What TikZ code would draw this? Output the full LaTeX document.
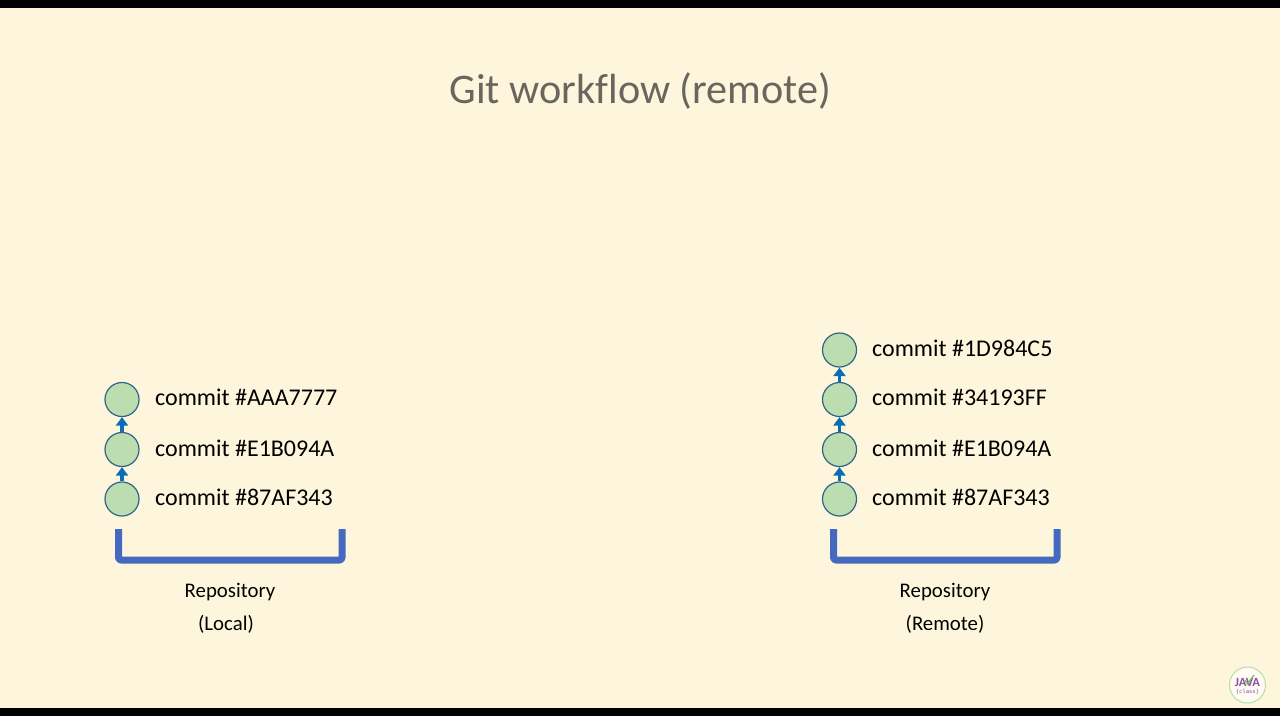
\documentclass[tikz,border=0pt]{standalone}
\usepackage{fontspec}
\setmainfont{Carlito}
\newfontfamily\monof{DejaVu Sans Mono}
\usetikzlibrary{arrows.meta}
\definecolor{bgc}{HTML}{FEF6DC}
\definecolor{titlec}{HTML}{68665F}
\definecolor{nodefill}{HTML}{BCDDB0}
\definecolor{nodeline}{HTML}{2F6488}
\definecolor{arrowc}{HTML}{0B6DB5}
\definecolor{bracketc}{HTML}{4569BE}
\definecolor{logop}{HTML}{8A4FA8}
\definecolor{logog}{HTML}{6FBF4A}
\tikzset{
  x=1pt,y=-1pt,
  commit/.style={circle,draw=nodeline,fill=nodefill,line width=1.2pt,minimum size=34pt,inner sep=0pt},
  lbl/.style={anchor=west,inner sep=0pt,font=\fontsize{24}{26}\selectfont,text=black},
  captext/.style={inner sep=0pt,font=\fontsize{20.8}{24}\selectfont,text=black},
  link/.style={draw=arrowc,line width=3.8pt,-{Triangle[length=8.5pt,width=12pt]},shorten >=0pt,shorten <=0pt},
  brk/.style={draw=bracketc,line width=7pt,line join=round,rounded corners=2.5pt},
}
\begin{document}
\begin{tikzpicture}
\useasboundingbox (0,0) rectangle (1280,716);
\fill[bgc] (0,0) rectangle (1280,716);
\fill[black] (0,0) rectangle (1280,7.5);
\fill[black] (0,707.5) rectangle (1280,716);
\node[inner sep=0pt,text=titlec,font=\addfontfeature{Ligatures=NoCommon}\fontsize{42.2}{44}\selectfont] (title) at (640.5,90.5) {Git workflow (remote)};

% local
\node[commit] (l3) at (122,399.5) {};
\node[commit] (l2) at (122,449.5) {};
\node[commit] (l1) at (122,499) {};
\draw[link] (l1.north) -- (l2.south);
\draw[link] (l2.north) -- (l3.south);
\node[lbl] (tl3) at (155,397.5) {commit \#AAA7777};
\node[lbl] (tl2) at (155,448) {commit \#E1B094A};
\node[lbl] (tl1) at (155,497.5) {commit \#87AF343};
\draw[brk] (118.5,529) -- (118.5,560) -- (342,560) -- (342,529);
\node[captext] (cl1) at (230,592) {Repository};
\node[captext] (cl2) at (226,624.5) {(Local)};

% remote
\node[commit] (r4) at (839.5,350) {};
\node[commit] (r3) at (839.5,399.5) {};
\node[commit] (r2) at (839.5,449.5) {};
\node[commit] (r1) at (839.5,499) {};
\draw[link] (r1.north) -- (r2.south);
\draw[link] (r2.north) -- (r3.south);
\draw[link] (r3.north) -- (r4.south);
\node[lbl] (tr4) at (872,348.5) {commit \#1D984C5};
\node[lbl] (tr3) at (872,397.5) {commit \#34193FF};
\node[lbl] (tr2) at (872,448) {commit \#E1B094A};
\node[lbl] (tr1) at (872,497.5) {commit \#87AF343};
\draw[brk] (833.5,529) -- (833.5,560) -- (1057,560) -- (1057,529);
\node[captext] (cr1) at (945,592) {Repository};
\node[captext] (cr2) at (945,624.5) {(Remote)};

% logo
\node[circle,draw=logog!50,fill=white!70!bgc,line width=1pt,minimum size=36pt,inner sep=0pt] (logo) at (1247.5,685) {};
\node[inner sep=0pt,text=logop,font=\bfseries\fontsize{12.5}{12}\selectfont] (logoj) at (1247.5,682) {JAVA};
\node[inner sep=0pt,text=logop,font=\monof\fontsize{5.5}{6}\selectfont] (logoc) at (1247.5,691.5) {\{class\}};
\draw[logog,line width=1.2pt] (1245,680) -- (1247.5,684) -- (1254,675);
\end{tikzpicture}
\end{document}
